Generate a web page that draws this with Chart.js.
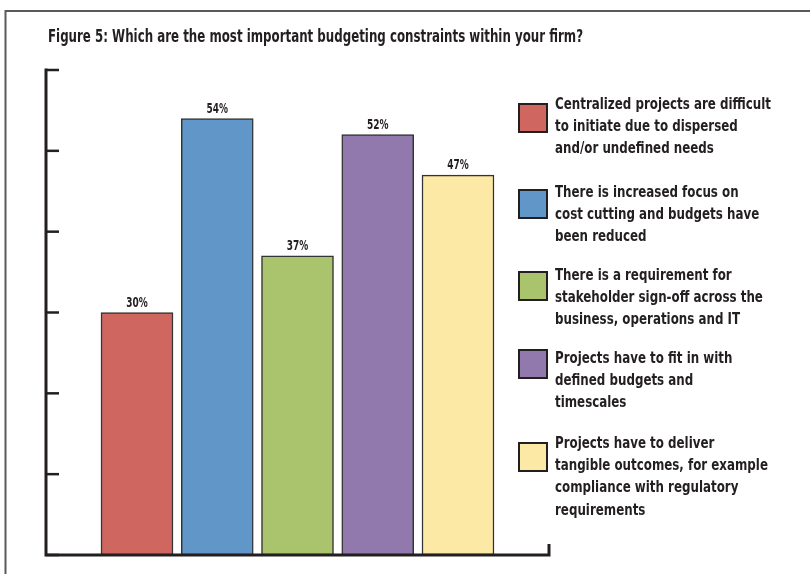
<!DOCTYPE html>
<html>
<head>
<meta charset="utf-8">
<script src="https://cdn.jsdelivr.net/npm/chart.js@4"></script>
<style>
  html, body { margin: 0; padding: 0; background: #fff; }
  #wrap { position: relative; width: 810px; height: 574px; }
  canvas { display: block; }
</style>
</head>
<body>
<div id="wrap"><canvas id="c" width="810" height="574"></canvas></div>
<script>
const title = "Figure 5: Which are the most important budgeting constraints within your firm?";
const categories = [
  "Centralized projects are difficult to initiate due to dispersed and/or undefined needs",
  "There is increased focus on cost cutting and budgets have been reduced",
  "There is a requirement for stakeholder sign-off across the business, operations and IT",
  "Projects have to fit in with defined budgets and timescales",
  "Projects have to deliver tangible outcomes, for example compliance with regulatory requirements"
];
const legendLines = [
  ["Centralized projects are difficult", "to initiate due to dispersed", "and/or undefined needs"],
  ["There is increased focus on", "cost cutting and budgets have", "been reduced"],
  ["There is a requirement for", "stakeholder sign-off across the", "business, operations and IT"],
  ["Projects have to fit in with", "defined budgets and", "timescales"],
  ["Projects have to deliver", "tangible outcomes, for example", "compliance with regulatory", "requirements"]
];
const values = [30, 54, 37, 52, 47];
const yTicks = [0, 10, 20, 30, 40, 50, 60];
const colors = ["#CF6660", "#6096C8", "#AAC46E", "#9179AE", "#FDE9A6"];

const FONT = "'DejaVu Sans Condensed', 'Liberation Sans Narrow', sans-serif";
const INK = "#231f20";

// draw text squeezed horizontally by factor sx, anchored at x (left or center)
function drawText(ctx, text, x, y, sx, align, heavy) {
  ctx.save();
  ctx.translate(x, y);
  ctx.scale(sx, 1);
  ctx.textAlign = align;
  ctx.fillText(text, 0, 0);
  if (heavy) {
    ctx.lineWidth = heavy;
    ctx.strokeStyle = ctx.fillStyle;
    ctx.strokeText(text, 0, 0);
  }
  ctx.restore();
}

const decor = {
  id: 'decor',
  beforeDraw(chart) {
    const ctx = chart.ctx;
    ctx.save();
    ctx.fillStyle = '#fff';
    ctx.fillRect(0, 0, chart.width, chart.height);
    ctx.strokeStyle = '#5a5a5a';
    ctx.lineWidth = 2;
    ctx.beginPath();
    ctx.moveTo(5.5, 574);
    ctx.lineTo(5.5, 11);
    ctx.lineTo(810, 11);
    ctx.stroke();
    ctx.fillStyle = INK;
    ctx.font = "bold 17px " + FONT;
    ctx.textBaseline = 'alphabetic';
    const sx = 535 / ctx.measureText(title).width;
    drawText(ctx, title, 48, 42, sx, 'left', 0);
    ctx.restore();
  },
  afterDatasetsDraw(chart) {
    const ctx = chart.ctx;
    const xs = chart.scales.x, ys = chart.scales.y;
    const L = xs.left, R = xs.right, T = ys.top, B = ys.bottom;
    ctx.save();
    ctx.strokeStyle = INK;
    ctx.lineWidth = 3;
    ctx.lineCap = 'butt';
    ctx.beginPath();
    ctx.moveTo(L, T - 1.5);
    ctx.lineTo(L, B);
    ctx.lineTo(R, B);
    ctx.lineTo(R, B - 11);
    ctx.stroke();
    ctx.lineWidth = 2.5;
    yTicks.forEach(t => {
      const y = ys.getPixelForValue(t);
      ctx.beginPath();
      ctx.moveTo(L, y);
      ctx.lineTo(L + 13, y);
      ctx.stroke();
    });
    const meta = chart.getDatasetMeta(0);
    ctx.fillStyle = INK;
    ctx.font = "bold 13.5px " + FONT;
    ctx.textBaseline = 'alphabetic';
    const vsx = 21.5 / ctx.measureText('54%').width;
    meta.data.forEach((bar, i) => {
      drawText(ctx, values[i] + '%', bar.x, bar.y - 6, vsx, 'center', 0);
    });
    const sqTops = [103, 189, 271, 349, 442];
    const baseTops = [109, 197, 280, 363, 448];
    ctx.font = "bold 16.5px " + FONT;
    const lsx = 216 / ctx.measureText(legendLines[0][0]).width;
    legendLines.forEach((lines, i) => {
      ctx.fillStyle = colors[i];
      ctx.fillRect(518, sqTops[i], 30, 30);
      ctx.strokeStyle = INK;
      ctx.lineWidth = 2;
      ctx.strokeRect(519, sqTops[i] + 1, 28, 28);
      ctx.fillStyle = INK;
      lines.forEach((ln, j) => drawText(ctx, ln, 555, baseTops[i] + j * 22.2, lsx, 'left', 0));
    });
    ctx.restore();
  }
};

new Chart(document.getElementById('c'), {
  type: 'bar',
  data: {
    labels: categories,
    datasets: [{
      data: values.map((v, i) => ({ x: i + 1, y: v })),
      backgroundColor: colors,
      borderColor: '#333333',
      borderWidth: 1.5,
      borderSkipped: false,
      barThickness: 72
    }]
  },
  options: {
    responsive: false,
    animation: false,
    devicePixelRatio: 1,
    layout: { padding: { left: 46, top: 70, right: 261, bottom: 19 } },
    plugins: { legend: { display: false }, tooltip: { enabled: false }, title: { display: false } },
    scales: {
      x: {
        type: 'linear', min: -0.134, max: 6.134, offset: false,
        display: false
      },
      y: {
        min: 0, max: 60,
        display: false,
        afterBuildTicks(s) { s.ticks = yTicks.map(v => ({ value: v })); }
      }
    }
  },
  plugins: [decor]
});
</script>
</body>
</html>
